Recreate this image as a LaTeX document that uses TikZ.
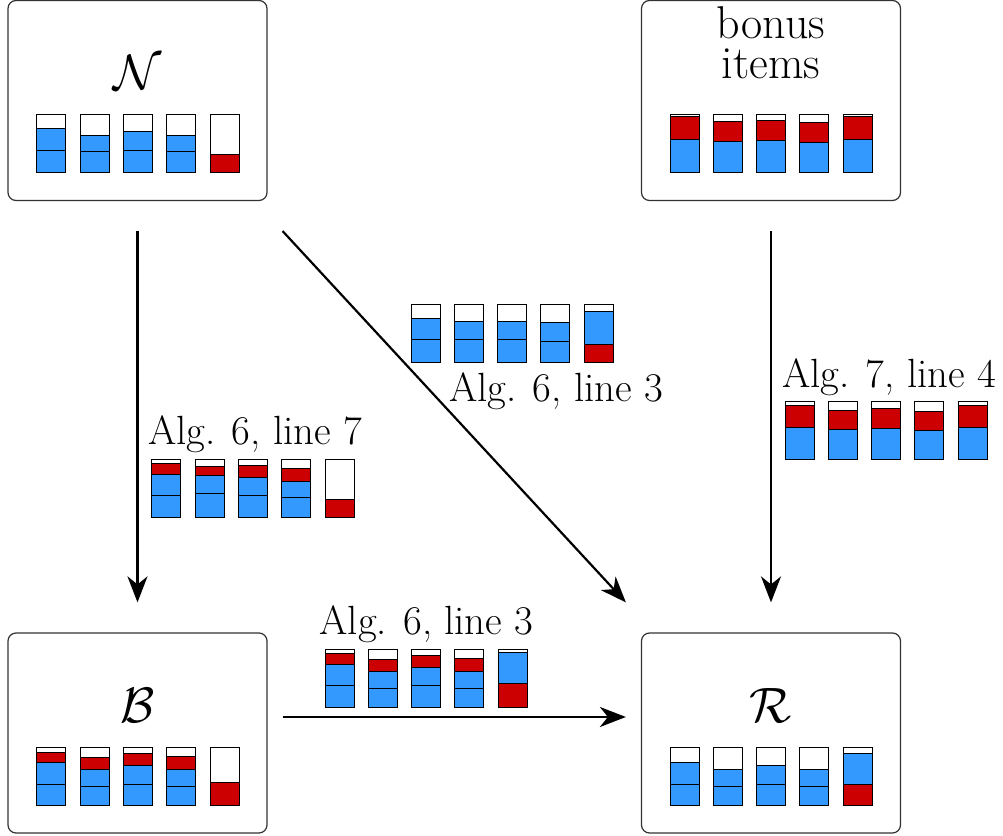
\documentclass[tikz,border=0pt]{standalone}
\usepackage{fontspec}
\usetikzlibrary{arrows.meta}

\definecolor{binblue}{RGB}{51,153,255}
\definecolor{binred}{RGB}{204,0,0}

\tikzset{
  panel/.style={draw=black!80, line width=0.6pt, rounded corners=4pt,
    minimum width=129.5pt, minimum height=100pt},
  setname/.style={font=\fontsize{24.88}{28}\selectfont, inner sep=0pt, anchor=base},
  alglabel/.style={font=\fontsize{20.4}{22}\selectfont, inner sep=0pt, anchor=base},
  binseg/.style={line width=0.5pt},
  binbox/.style={line width=0.5pt},
  flow/.style={-{Stealth[length=13pt,width=10pt,inset=4pt]}, line width=1.1pt}
}

% one bin: lower-left x, lower-left y, list of colour/top (fractions)
\newcommand{\drawbin}[3]{%
  \foreach \c/\t [remember=\t as \b (initially 0)] in #3
    \filldraw[binseg, fill=\c] (#1, #2+\b*58) rectangle (#1+29, #2+\t*58);
  \draw[binbox] (#1,#2) rectangle (#1+29,#2+58);
}
% five bins side by side
\newcommand{\bingroup}[3]{%
  \foreach \segs [count=\i from 0] in {#3}
    {\drawbin{#1+43.33*\i}{#2}{\segs}}
}

\begin{document}
\begin{tikzpicture}[x=0.5pt, y=0.5pt]
  \useasboundingbox (0,0) rectangle (1003,836);

  % the four sets
  \node[panel] (N) at (137.5,735.5) {};
  \node[panel] (bonus) at (771,735.5) {};
  \node[panel] (B) at (137.5,103) {};
  \node[panel] (R) at (771,103) {};

  \node[setname] (labN) at (137.5,746) {$\mathcal{N}$};
  \node[font=\fontsize{23}{20}\selectfont, align=center, inner sep=0pt,
    anchor=north] (labBonus) at (771,830) {bonus\\items};
  \node[setname] (labB) at (137.5,113) {$\mathcal{B}$};
  \node[setname] (labR) at (771,113) {$\mathcal{R}$};

  \bingroup{36.7}{663.7}{{binblue/0.374,binblue/0.759},
    {binblue/0.356,binblue/0.632}, {binblue/0.374,binblue/0.707},
    {binblue/0.356,binblue/0.632}, {binred/0.31}}
  \bingroup{670}{663.7}{{binblue/0.569,binred/0.96},
    {binblue/0.523,binred/0.868}, {binblue/0.546,binred/0.897},
    {binblue/0.511,binred/0.851}, {binblue/0.569,binred/0.96}}
  \bingroup{36.7}{30.3}{{binblue/0.371,binblue/0.743,binred/0.914},
    {binblue/0.326,binblue/0.623,binred/0.823},
    {binblue/0.371,binblue/0.691,binred/0.897},
    {binblue/0.326,binblue/0.623,binred/0.84}, {binred/0.4}}
  \bingroup{670}{30.3}{{binblue/0.371,binblue/0.743},
    {binblue/0.326,binblue/0.623}, {binblue/0.371,binblue/0.691},
    {binblue/0.326,binblue/0.623}, {binred/0.371,binblue/0.897}}

  % transitions
  \draw[flow, shorten <=15pt, shorten >=15pt] (N) -- (B);
  \draw[flow, shorten <=15pt, shorten >=15pt] (bonus) -- (R);
  \draw[flow] ([shift={(15,-30)}]N.south east) -- ([shift={(-15,30)}]R.north west);
  \draw[flow] ([shift={(15,16)}]B.east) -- ([shift={(-15,16)}]R.west);

  % contents along the way
  \bingroup{411}{473.7}{{binblue/0.385,binblue/0.753},
    {binblue/0.385,binblue/0.701}, {binblue/0.385,binblue/0.701},
    {binblue/0.351,binblue/0.678}, {binred/0.305,binblue/0.879}}
  \node[alglabel] (algA) at (556,434.3) {Alg. 6, line 3};

  \node[alglabel] (algB) at (255,391) {Alg. 6, line 7};
  \bingroup{151.7}{318.7}{{binblue/0.368,binblue/0.741,binred/0.92},
    {binblue/0.402,binblue/0.713,binred/0.868},
    {binblue/0.368,binblue/0.69,binred/0.897},
    {binblue/0.345,binblue/0.621,binred/0.845}, {binred/0.299}}

  \node[alglabel] (algC) at (889,448.6) {Alg. 7, line 4};
  \bingroup{785}{376}{{binblue/0.56,binred/0.943},
    {binblue/0.52,binred/0.857}, {binblue/0.543,binred/0.886},
    {binblue/0.509,binred/0.84}, {binblue/0.566,binred/0.943}}

  \node[alglabel] (algD) at (426.5,201) {Alg. 6, line 3};
  \bingroup{325}{128.7}{{binblue/0.368,binblue/0.741,binred/0.92},
    {binblue/0.316,binblue/0.615,binred/0.816},
    {binblue/0.368,binblue/0.69,binred/0.897},
    {binblue/0.316,binblue/0.615,binred/0.839}, {binred/0.402,binblue/0.943}}
\end{tikzpicture}
\end{document}
